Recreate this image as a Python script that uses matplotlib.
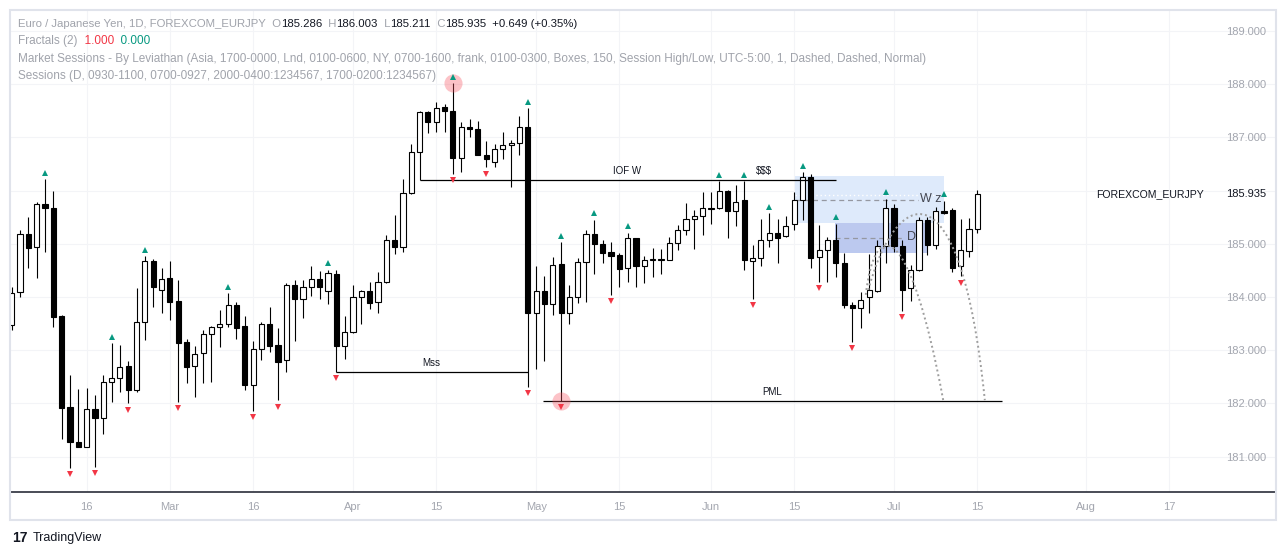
import matplotlib
matplotlib.use('Agg')
import matplotlib.pyplot as plt
import matplotlib.transforms as mtransforms
from matplotlib.patches import Rectangle, PathPatch
from matplotlib.path import Path
import numpy as np

plt.rcParams['font.family'] = ['Liberation Sans', 'DejaVu Sans']

# daily candles (EURJPY, 1D)
opens = [183.47, 184.09, 185.18, 184.93, 185.74, 185.68, 183.64, 181.93, 181.27, 181.17,
         181.89, 181.72, 182.40, 182.47, 182.70, 182.25, 183.52, 184.67, 184.14, 184.36,
         183.92, 183.15, 182.71, 182.94, 183.30, 183.43, 183.49, 183.84, 183.45, 182.34,
         183.02, 183.49, 183.10, 182.81, 184.23, 183.96, 184.18, 184.33, 184.12, 184.44,
         183.07, 183.35, 183.99, 184.11, 183.90, 184.28, 185.07, 184.93, 185.96, 186.72,
         187.47, 187.28, 187.57, 187.50, 186.62, 187.20, 187.15, 186.66, 186.53, 186.79,
         186.85, 186.89, 187.20, 183.69, 184.11, 183.86, 184.62, 183.70, 183.99, 184.65,
         185.18, 185.00, 184.84, 184.78, 184.54, 185.10, 184.59, 184.70, 184.70, 184.69,
         185.01, 185.25, 185.47, 185.52, 185.66, 185.67, 185.99, 185.61, 185.82, 184.68,
         184.73, 185.08, 185.20, 185.14, 185.37, 185.82, 186.25, 184.75, 184.88, 185.08,
         184.63, 183.85, 183.79, 184.00, 184.12, 184.95, 185.67, 184.95, 184.16, 184.50,
         185.44, 184.98, 185.62, 185.64, 184.59, 184.87, 185.286]
highs = [184.18, 185.26, 185.50, 185.78, 186.21, 185.99, 183.67, 182.53, 182.27, 182.29,
         182.16, 182.53, 183.13, 183.10, 182.80, 184.16, 184.77, 184.71, 184.54, 184.67,
         184.32, 183.21, 183.08, 183.38, 183.46, 183.75, 184.07, 183.90, 183.64, 183.17,
         183.52, 183.82, 183.42, 184.26, 184.31, 184.32, 184.58, 184.49, 184.51, 184.51,
         183.64, 184.23, 184.13, 184.28, 184.46, 185.17, 185.54, 186.22, 186.88, 187.50,
         187.50, 187.67, 187.62, 188.02, 187.28, 187.34, 187.31, 186.94, 186.88, 187.10,
         186.95, 187.40, 187.55, 184.58, 184.39, 184.75, 185.03, 184.22, 184.73, 185.25,
         185.45, 185.08, 185.03, 184.83, 185.21, 185.10, 184.77, 184.92, 184.90, 185.12,
         185.35, 185.77, 185.63, 185.97, 185.98, 186.18, 186.02, 186.11, 186.18, 184.98,
         185.46, 185.57, 185.46, 185.53, 185.98, 186.34, 186.31, 185.35, 185.12, 185.38,
         184.82, 183.91, 184.09, 184.80, 185.08, 185.85, 185.75, 185.07, 184.60, 185.51,
         185.51, 185.69, 185.81, 185.67, 185.47, 185.48, 186.003]
lows = [183.38, 184.00, 184.55, 184.36, 184.85, 183.44, 181.33, 180.79, 181.18, 181.17,
        180.81, 181.42, 182.02, 182.22, 182.00, 182.21, 183.20, 183.82, 183.70, 183.57,
        182.03, 182.38, 182.11, 182.38, 182.40, 183.05, 183.44, 183.21, 182.26, 181.86,
        182.81, 182.97, 182.06, 182.59, 183.18, 183.61, 184.02, 183.97, 183.86, 182.59,
        182.83, 183.32, 183.49, 183.77, 183.70, 184.26, 184.80, 184.85, 185.94, 186.20,
        187.08, 187.11, 187.11, 186.32, 186.34, 187.00, 186.66, 186.44, 186.44, 186.59,
        186.07, 186.67, 182.31, 182.64, 182.80, 183.67, 182.05, 183.50, 183.88, 183.91,
        184.44, 184.63, 184.04, 184.18, 184.29, 184.19, 184.27, 184.38, 184.44, 184.69,
        184.88, 185.16, 184.90, 185.16, 185.37, 185.65, 185.11, 185.33, 184.51, 183.97,
        184.58, 184.94, 184.64, 185.12, 185.26, 185.45, 184.54, 184.29, 184.29, 184.38,
        183.79, 183.16, 183.41, 183.70, 184.10, 184.64, 184.85, 183.74, 183.93, 184.48,
        184.79, 184.90, 185.56, 184.46, 184.39, 184.76, 185.211]
closes = [184.08, 185.18, 184.92, 185.74, 185.68, 183.63, 181.92, 181.28, 181.18, 181.89,
          181.72, 182.40, 182.47, 182.69, 182.25, 183.52, 184.67, 184.18, 184.33, 183.91,
          183.14, 182.69, 182.92, 183.30, 183.43, 183.49, 183.84, 183.42, 182.34, 183.02,
          183.49, 183.08, 182.78, 184.23, 183.96, 184.18, 184.33, 184.19, 184.45, 183.07,
          183.35, 183.99, 184.11, 183.89, 184.28, 185.07, 184.93, 185.96, 186.72, 187.47,
          187.28, 187.56, 187.50, 186.62, 187.20, 187.15, 186.66, 186.59, 186.79, 186.85,
          186.90, 187.20, 183.70, 184.11, 183.86, 184.60, 183.70, 183.99, 184.65, 185.18,
          185.00, 184.83, 184.77, 184.53, 185.10, 184.59, 184.69, 184.71, 184.71, 185.01,
          185.26, 185.47, 185.52, 185.67, 185.67, 185.99, 185.61, 185.78, 184.69, 184.73,
          185.08, 185.20, 185.11, 185.33, 185.82, 186.25, 184.74, 184.88, 185.08, 184.63,
          183.84, 183.79, 183.94, 184.14, 184.95, 185.67, 184.95, 184.13, 184.51, 185.44,
          184.98, 185.62, 185.58, 184.55, 184.88, 185.27, 185.935]

# Fractals (2) signals, bar numbers
frac_up = [4, 12, 16, 26, 38, 53, 62, 66, 70, 74, 85, 88, 91, 95, 99, 105, 112]
frac_dn = [7, 10, 14, 20, 29, 32, 39, 53, 57, 62, 66, 72, 89, 97, 101, 107, 114]
circled_high = [53]
circled_low = [66]

# x axis labels
tick_pos = [9, 19, 29, 41, 51, 63, 73, 84, 94, 106, 116, 129, 139]
tick_lab = ['16', 'Mar', '16', 'Apr', '15', 'May', '15', 'Jun', '15', 'Jul', '15', 'Aug', '17']
grid_prices = [181, 182, 183, 184, 185, 186, 187, 188, 189]
# 186.000 is hidden behind the last price label on the scale
price_labels = [181, 182, 183, 184, 185, 187, 188, 189]

# drawn levels: (price, start bar, end bar, label, label bar)
levels = [
    (186.20, 49, 99, 'IOF W', 73.9),
    (182.59, 39, 62, 'Mss', 50.4),
    (182.05, 63.8, 119, 'PML', 91.3),
]
extra_labels = [('$$$', 90.4, 186.20)]

# session boxes: (bar0, bar1, low, high, colour)
boxes = [
    (94.1, 112.0, 185.39, 186.27, '#deeafb'),
    (98.9, 110.0, 184.83, 185.39, '#bcc9ef'),
]

# dotted curves: four bezier points (bar, price)
curve_a = [(102.9, 184.13), (106.1, 186.01), (113.9, 186.67), (116.9, 182.06)]
curve_b = [(102.6, 184.04), (103.7, 185.54), (107.9, 185.45), (111.9, 182.06)]

W, H = 1286, 556
fig = plt.figure(figsize=(W / 100, H / 100), dpi=100)
ax = fig.add_axes([10 / W, 64 / H, 1266 / W, 482 / H])
ax.set_xlim(-0.204, 151.88)
ax.set_ylim(180.333, 189.395)

o = np.array(opens)
h = np.array(highs)
l = np.array(lows)
c = np.array(closes)
x = np.arange(len(o))
up = c >= o

# faint grid
for p in grid_prices:
    ax.axhline(p, color='#f3f4f7', lw=0.8, zorder=0)
for t in tick_pos:
    ax.axvline(t, color='#f3f4f7', lw=0.8, zorder=0)

# boxes behind candles
for b0, b1, lo, hi, col in boxes:
    ax.add_patch(Rectangle((b0, lo), b1 - b0, hi - lo, facecolor=col, edgecolor='none', zorder=1))
ax.hlines((boxes[0][2] + boxes[0][3]) / 2, boxes[0][0], 108.9, colors='#9598a1',
          linestyles=(0, (4, 3)), lw=0.9, zorder=1.5)
ax.hlines((boxes[1][2] + boxes[1][3]) / 2, boxes[1][0], 107.1, colors='#9598a1',
          linestyles=(0, (4, 3)), lw=0.9, zorder=1.5)
ax.hlines(185.92, boxes[0][0], 111.5, colors='white', linestyles=(0, (1, 2)), lw=1, zorder=1.5)
ax.text(109.1, 185.84, 'W z', fontsize=9, color='#434651', va='center', ha='left', zorder=6)
ax.text(107.5, 185.12, 'D', fontsize=9, color='#434651', va='center', ha='left', zorder=6)

# candles
ax.vlines(x, l, h, color='black', lw=0.8, zorder=2)
ax.bar(x, np.maximum(np.abs(c - o), 0.012), bottom=np.minimum(o, c), width=0.62,
       color=np.where(up, 'white', 'black'), edgecolor='black', linewidth=0.8, zorder=3)

# levels
for lev, b0, b1, lab, lb in levels:
    ax.hlines(lev, b0, b1, colors='black', lw=0.9, zorder=3.5)
    ax.text(lb, lev + 0.16, lab, fontsize=7, color='#131722', ha='center', va='center', zorder=6)
for lab, lb, lev in extra_labels:
    ax.text(lb, lev + 0.16, lab, fontsize=7, color='#131722', ha='center', va='center', zorder=6)

# dotted curves
for pts in (curve_a, curve_b):
    path = Path(pts, [Path.MOVETO, Path.CURVE4, Path.CURVE4, Path.CURVE4])
    ax.add_patch(PathPatch(path, facecolor='none', edgecolor='#9e9e9e', lw=1.4,
                           linestyle=(0, (1, 1.5)), zorder=4))

# highlighted fractals
ax.scatter(circled_high, h[circled_high], s=170, color='#f7525f', alpha=0.35, linewidths=0, zorder=4.5)
ax.scatter(circled_low, l[circled_low], s=170, color='#f7525f', alpha=0.35, linewidths=0, zorder=4.5)

# fractal arrows
ax.plot(frac_up, h[frac_up] + 0.12, '^', color='#089981', ms=4.5, mew=0, ls='none', zorder=5)
ax.plot(frac_dn, l[frac_dn] - 0.12, 'v', color='#f23645', ms=4.5, mew=0, ls='none', zorder=5)

# axes styling
for side in ['top', 'left', 'right']:
    ax.spines[side].set_visible(False)
ax.spines['bottom'].set_color('#2a2e39')
ax.spines['bottom'].set_linewidth(1.2)
ax.set_xticks(tick_pos, tick_lab)
ax.tick_params(axis='x', length=0, pad=7, labelsize=8, labelcolor='#a3a6af')
ax.set_yticks(price_labels, ['%.3f' % p for p in price_labels])
ax.yaxis.set_ticks_position('right')
ax.tick_params(axis='y', length=0, pad=-7.2, labelsize=8, labelcolor='#a3a6af')
for lbl in ax.get_yticklabels():
    lbl.set_horizontalalignment('right')

trans = mtransforms.blended_transform_factory(ax.transAxes, ax.transData)
ax.text(1 - 10 / 1266, c[-1], '%.3f' % c[-1], transform=trans, ha='right', va='center',
        fontsize=8, color='#131722')
ax.text((1204 - 10) / 1266, c[-1], 'FOREXCOM_EURJPY', transform=trans, ha='right', va='center',
        fontsize=7.6, color='#131722')

# outer frame
fig.add_artist(Rectangle((10 / W, 36 / H), 1266 / W, 510 / H, transform=fig.transFigure,
                         fill=False, edgecolor='#e0e3eb', lw=1.5))

# legend lines at the top
GRAY = '#a0a3ab'
DARK = '#131722'
renderer = fig.canvas.get_renderer()


def put_parts(x_px, y_px, parts, size=8.5):
    for s, col in parts:
        t = fig.text(x_px / W, 1 - y_px / H, s, color=col, fontsize=size, va='center', ha='left')
        x_px += t.get_window_extent(renderer).width


put_parts(18, 24, [('Euro / Japanese Yen, 1D, FOREXCOM_EURJPY', GRAY),
                   ('  O', GRAY), ('%.3f' % o[-1], DARK),
                   ('  H', GRAY), ('%.3f' % h[-1], DARK),
                   ('  L', GRAY), ('%.3f' % l[-1], DARK),
                   ('  C', GRAY), ('%.3f' % c[-1], DARK),
                   ('  +0.649 (+0.35%)', DARK)], size=8.2)
put_parts(18, 41, [('Fractals (2)', GRAY), ('  1.000', '#f23645'), ('  0.000', '#089981')])
put_parts(18, 59, [('Market Sessions - By Leviathan (Asia, 1700-0000, Lnd, 0100-0600, NY, 0700-1600, '
                    'frank, 0100-0300, Boxes, 150, Session High/Low, UTC-5:00, 1, Dashed, Dashed, Normal)', GRAY)])
put_parts(18, 76, [('Sessions (D, 0930-1100, 0700-0927, 2000-0400:1234567, 1700-0200:1234567)', GRAY)])

# footer
fig.text(12 / W, 1 - 538 / H, '17', fontsize=10, fontweight='heavy', color=DARK, va='center')
fig.text(33 / W, 1 - 538 / H, 'TradingView', fontsize=9, color=DARK, va='center')

fig.savefig('out.png', dpi=100)
